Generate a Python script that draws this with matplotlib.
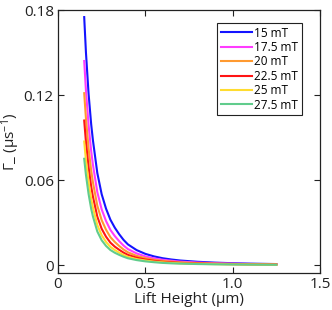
import matplotlib
matplotlib.use('Agg')
import matplotlib.pyplot as plt

# lift height (um) sample positions
h = [0.15, 0.16, 0.175, 0.19, 0.2, 0.225, 0.25, 0.275, 0.3, 0.325, 0.35, 0.375,
     0.4, 0.45, 0.5, 0.55, 0.6, 0.65, 0.7, 0.8, 0.9, 1.0, 1.1, 1.25]

# relaxation rate (1/us) for each field
g_15 = [0.175, 0.150, 0.121, 0.0993, 0.088, 0.065, 0.050, 0.0398, 0.032, 0.0264, 0.0218, 0.0178,
        0.0146, 0.01056, 0.0079, 0.0061, 0.0048, 0.0039, 0.0032, 0.0023, 0.0017, 0.0013, 0.0010, 0.0007]
g_175 = [0.144, 0.1232, 0.0989, 0.0804, 0.0708, 0.0515, 0.0393, 0.0311, 0.0248, 0.0205, 0.0169, 0.0138,
         0.0113, 0.0082, 0.0061, 0.0047, 0.0037, 0.0030, 0.0024, 0.00174, 0.00129, 0.00099, 0.00076, 0.00053]
g_20 = [0.1213, 0.1033, 0.0825, 0.0667, 0.0584, 0.0419, 0.0317, 0.0249, 0.0197, 0.0163, 0.0135, 0.0110,
        0.0090, 0.0065, 0.0049, 0.0037, 0.0029, 0.0024, 0.0019, 0.00136, 0.00101, 0.00077, 0.00059, 0.00041]
g_225 = [0.102, 0.0868, 0.0691, 0.0554, 0.0483, 0.0342, 0.0256, 0.0200, 0.0158, 0.0130, 0.0108, 0.0088,
         0.0072, 0.0052, 0.0039, 0.0030, 0.0023, 0.0019, 0.00152, 0.00107, 0.00079, 0.0006, 0.00046, 0.00032]
g_25 = [0.0872, 0.0739, 0.0586, 0.0466, 0.0405, 0.0283, 0.0210, 0.0163, 0.0128, 0.0106, 0.0087, 0.0071,
        0.0058, 0.0042, 0.0032, 0.0024, 0.0019, 0.0015, 0.0012, 0.00085, 0.00063, 0.00048, 0.00037, 0.00025]
g_275 = [0.075, 0.0636, 0.0502, 0.0397, 0.0343, 0.0237, 0.0175, 0.0135, 0.0106, 0.0087, 0.0072, 0.0059,
         0.0048, 0.0035, 0.0026, 0.0020, 0.0015, 0.0012, 0.0010, 0.0007, 0.0005, 0.0004, 0.0003, 0.0002]

labels = ['15 mT', '17.5 mT', '20 mT', '22.5 mT', '25 mT', '27.5 mT']
colors = ['#1414ff', '#ff3cff', '#ff9a30', '#ff1414', '#ffdc30', '#60cc8c']
series = [g_15, g_175, g_20, g_225, g_25, g_275]

plt.rcParams['font.family'] = ['Open Sans', 'DejaVu Sans']
plt.rcParams['mathtext.fontset'] = 'custom'
plt.rcParams['mathtext.rm'] = 'Open Sans'
plt.rcParams['mathtext.it'] = 'Open Sans'

fig = plt.figure(figsize=(3.32, 3.10), dpi=100)
ax = fig.add_axes([58/332, 1-272.7/310, 262/332, 262.7/310])

for s, c, l in zip(series, colors, labels):
    ax.plot(h, s, color=c, lw=1.5, label=l)

ax.set_xlim(0, 1.5)
ax.set_ylim(-0.0054, 0.18)
ax.set_xticks([0, 0.5, 1.0, 1.5])
ax.set_xticklabels(['0', '0.5', '1.0', '1.5'])
ax.set_yticks([0, 0.06, 0.12, 0.18])
ax.set_yticklabels(['0', '0.06', '0.12', '0.18'])
ax.tick_params(direction='in', top=True, right=True, length=4, width=0.8,
               labelsize=11, pad=3, colors='#222222')
for sp in ax.spines.values():
    sp.set_linewidth(0.9)
    sp.set_color('#222222')

ax.set_xlabel('Lift Height (μm)', fontsize=11, labelpad=0, color='#222222')
ax.set_ylabel('Γ_ (μs$^{-1}$)', fontsize=11, labelpad=1, color='#222222')

leg = ax.legend(loc='upper right', bbox_to_anchor=((302-58)/262, (272.7-23)/262.7),
                bbox_transform=ax.transAxes, fontsize=8.5, handlelength=2.6,
                handletextpad=0.25, labelspacing=0.12, borderpad=0.3, borderaxespad=0,
                fancybox=False, framealpha=1, edgecolor='#222222')
leg.get_frame().set_linewidth(0.8)

fig.savefig('out.png', dpi=100)
